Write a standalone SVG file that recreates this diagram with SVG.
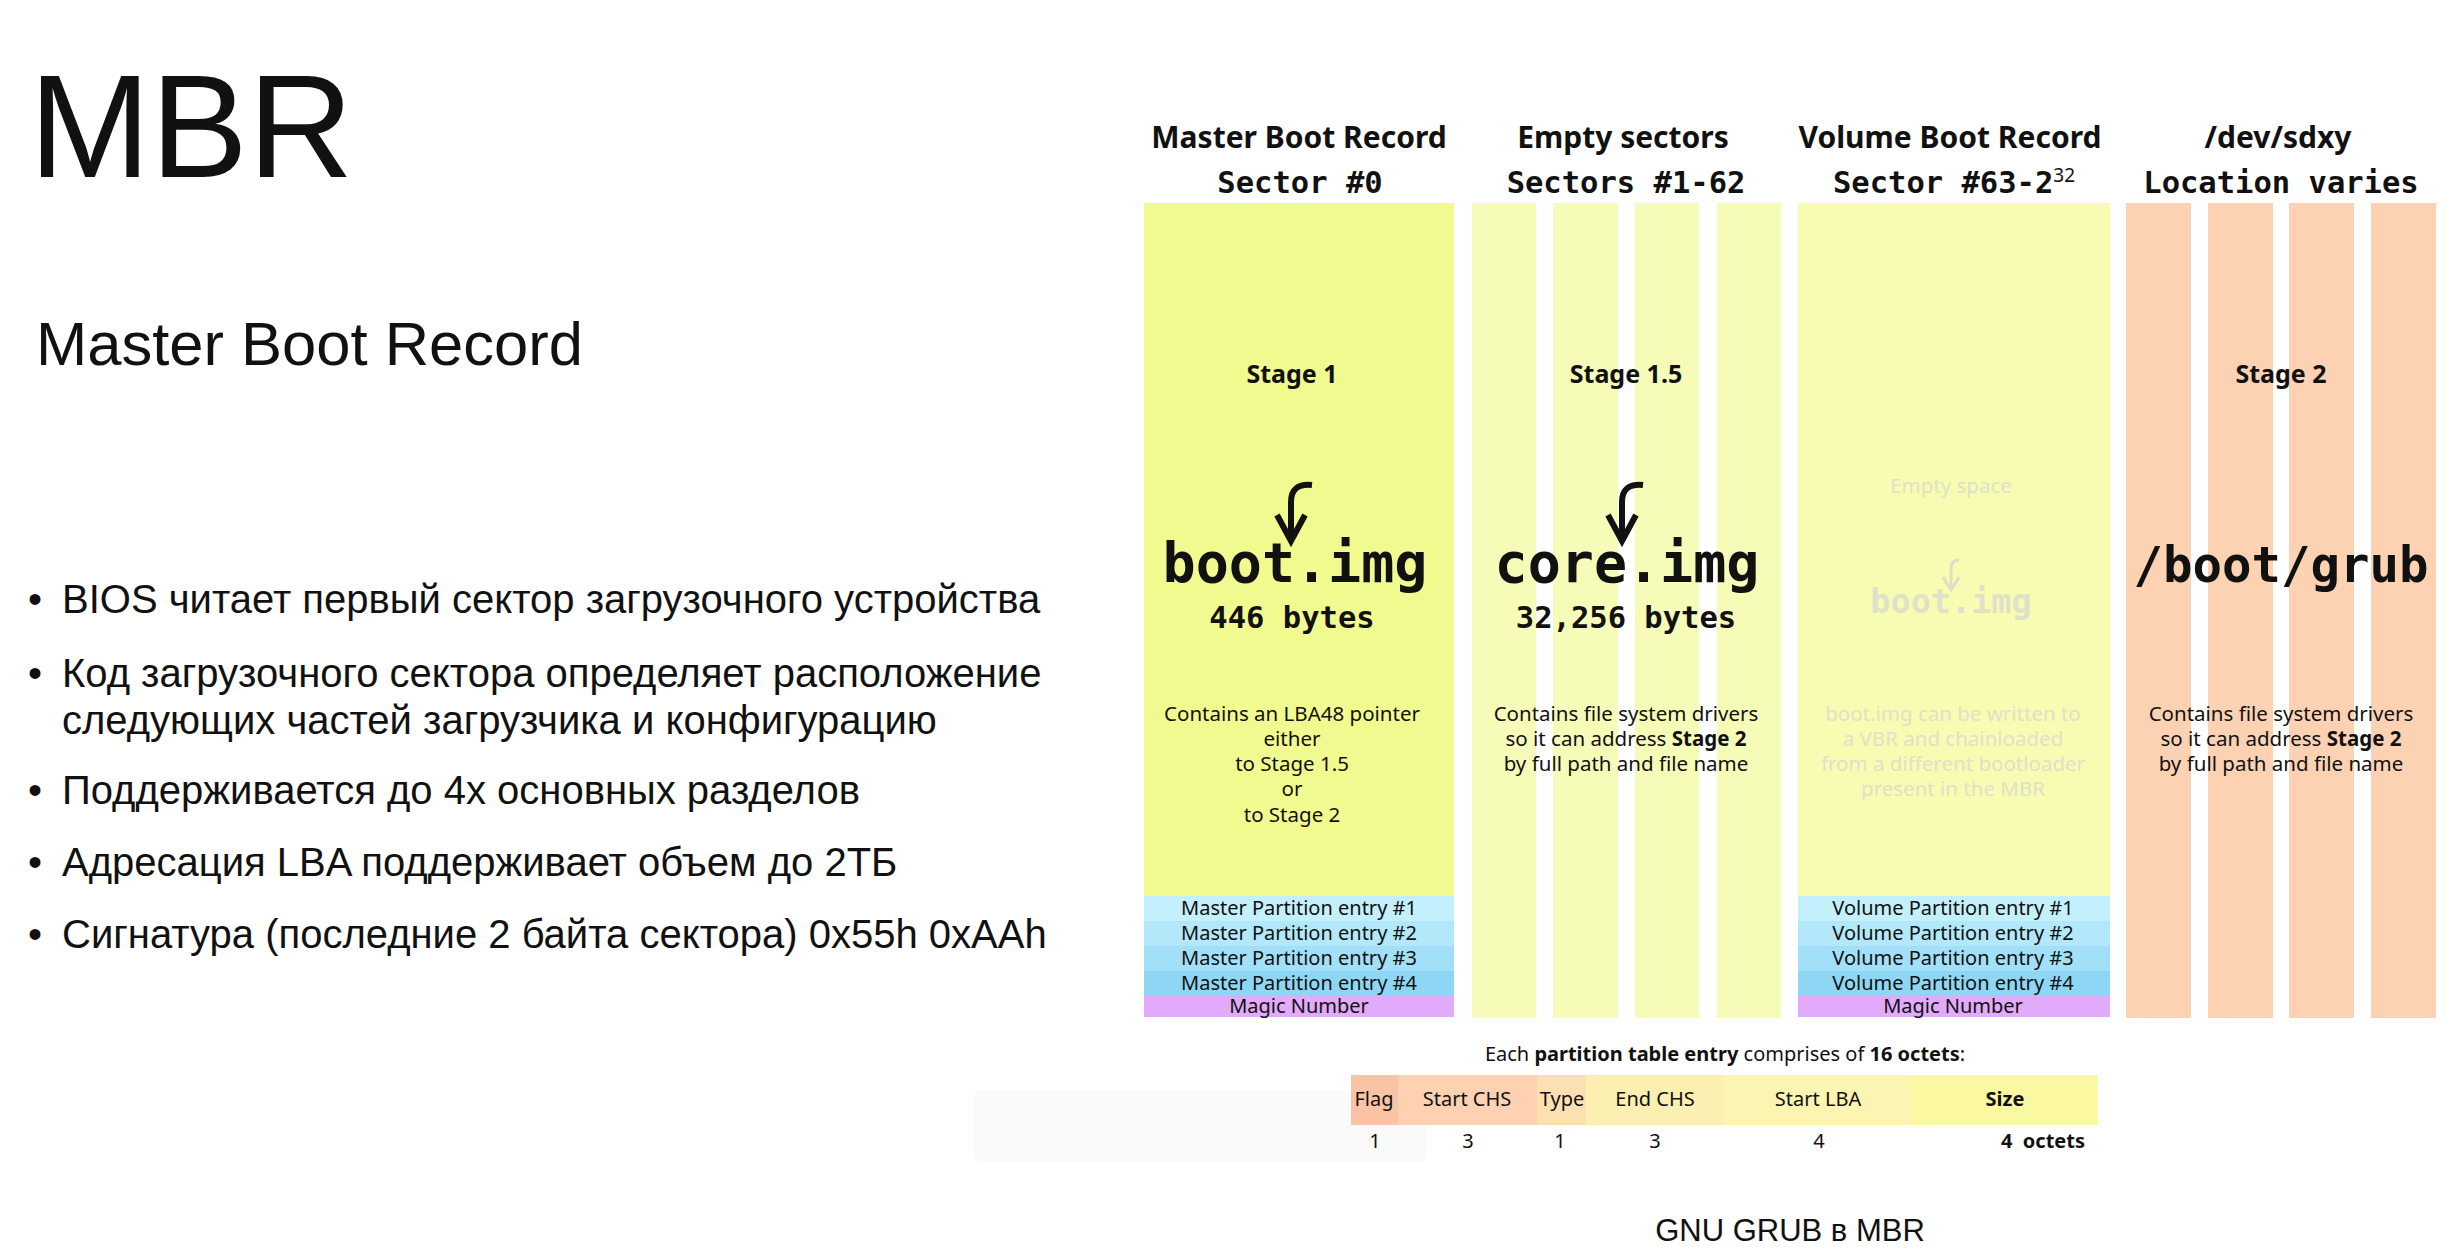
<svg xmlns="http://www.w3.org/2000/svg" width="2453" height="1254" viewBox="0 0 2453 1254">
  <style>
    .slide { font-family: "Liberation Sans", Arial, sans-serif; fill: #111; }
    .hdr { font-family: "Noto Sans", "Open Sans", sans-serif; font-weight: bold; font-size: 30px; fill: #111; text-anchor: middle; }
    .mono { font-family: "DejaVu Sans Mono", "Liberation Mono", monospace; font-weight: bold; fill: #111; text-anchor: middle; }
    .sub { font-size: 30.5px; }
    .big { font-size: 55px; }
    .stage { font-family: "Noto Sans", "Open Sans", sans-serif; font-weight: bold; font-size: 25px; fill: #111; text-anchor: middle; }
    .desc { font-family: "Noto Sans", "Open Sans", sans-serif; font-size: 20.5px; fill: #111; text-anchor: middle; }
    .entry { font-family: "Noto Sans", "Open Sans", sans-serif; font-size: 20px; fill: #111; text-anchor: middle; }
    .faint { fill: #dfe1c8; }
    .arrow { fill: none; stroke: #111; stroke-width: 6; stroke-linecap: butt; }
    .arrow-faint { fill: none; stroke: #dcdec6; stroke-width: 3; }
    .mbr { fill: #f1fa8e; }
    .gap { fill: #f7fbb8; }
    .vbr { fill: #f8fcb3; }
    .dev { fill: #fcd2b2; }
    .p1 { fill: #c3f0fc; }
    .p2 { fill: #b2e8fa; }
    .p3 { fill: #a1e0f8; }
    .p4 { fill: #8dd7f5; }
    .magic { fill: #e1aafa; }
  </style>

  <rect width="2453" height="1254" fill="#ffffff"/>

  <!-- slide text on the left -->
  <g id="slide-title">
    <text class="slide" x="29" y="177" font-size="146">MBR</text>
    <text class="slide" x="36" y="365" font-size="61.5">Master Boot Record</text>
  </g>
  <g id="slide-bullets" class="slide" font-size="40">
    <text x="28" y="613">•</text><text x="62" y="613">BIOS читает первый сектор загрузочного устройства</text>
    <text x="28" y="687">•</text><text x="62" y="687">Код загрузочного сектора определяет расположение</text>
    <text x="62" y="734">следующих частей загрузчика и конфигурацию</text>
    <text x="28" y="804">•</text><text x="62" y="804">Поддерживается до 4х основных разделов</text>
    <text x="28" y="876">•</text><text x="62" y="876">Адресация LBA поддерживает объем до 2ТБ</text>
    <text x="28" y="948">•</text><text x="62" y="948">Сигнатура (последние 2 байта сектора) 0x55h 0xAAh</text>
  </g>

  <!-- faint video-player bar -->
  <rect x="973" y="1090" width="454" height="72" rx="8" fill="#000" opacity="0.018"/>

  <!-- Master Boot Record, sector #0 -->
  <g id="mbr">
    <rect class="mbr" x="1144" y="203" width="310" height="693"/>
    <rect class="p1" x="1144" y="896" width="310" height="25"/>
    <rect class="p2" x="1144" y="921" width="310" height="25"/>
    <rect class="p3" x="1144" y="946" width="310" height="25"/>
    <rect class="p4" x="1144" y="971" width="310" height="25"/>
    <rect class="magic" x="1144" y="996" width="310" height="21"/>
    <text class="hdr" x="1299" y="148">Master Boot Record</text>
    <text class="mono sub" x="1300" y="193">Sector #0</text>
    <text class="stage" x="1292" y="383">Stage 1</text>
    <text class="mono big" x="1295" y="582">boot.img</text>
    <text class="mono sub" x="1292" y="628">446 bytes</text>
    <text class="desc" x="1292" y="721">Contains an LBA48 pointer</text>
    <text class="desc" x="1292" y="746">either</text>
    <text class="desc" x="1292" y="771">to Stage 1.5</text>
    <text class="desc" x="1292" y="796">or</text>
    <text class="desc" x="1292" y="822">to Stage 2</text>
    <text class="entry" x="1299" y="915">Master Partition entry #1</text>
    <text class="entry" x="1299" y="940">Master Partition entry #2</text>
    <text class="entry" x="1299" y="965">Master Partition entry #3</text>
    <text class="entry" x="1299" y="990">Master Partition entry #4</text>
    <text class="entry" x="1299" y="1013">Magic Number</text>
  </g>

  <!-- empty sectors #1-62 holding core.img -->
  <g id="empty-sectors">
    <rect class="gap" x="1472" y="203" width="64" height="815"/>
    <rect class="gap" x="1553" y="203" width="65" height="815"/>
    <rect class="gap" x="1635" y="203" width="64" height="815"/>
    <rect class="gap" x="1717" y="203" width="64" height="815"/>
    <text class="hdr" x="1623" y="148">Empty sectors</text>
    <text class="mono sub" x="1626" y="193">Sectors #1-62</text>
    <text class="stage" x="1626" y="383">Stage 1.5</text>
    <text class="mono big" x="1627" y="582">core.img</text>
    <text class="mono sub" x="1626" y="628">32,256 bytes</text>
    <text class="desc" x="1626" y="721">Contains file system drivers</text>
    <text class="desc" x="1626" y="746">so it can address <tspan font-weight="bold">Stage 2</tspan></text>
    <text class="desc" x="1626" y="771">by full path and file name</text>
  </g>

  <!-- Volume Boot Record -->
  <g id="vbr">
    <rect class="vbr" x="1798" y="203" width="312" height="693"/>
    <rect class="p1" x="1798" y="896" width="312" height="25"/>
    <rect class="p2" x="1798" y="921" width="312" height="25"/>
    <rect class="p3" x="1798" y="946" width="312" height="25"/>
    <rect class="p4" x="1798" y="971" width="312" height="25"/>
    <rect class="magic" x="1798" y="996" width="312" height="21"/>
    <text class="hdr" x="1950" y="148">Volume Boot Record</text>
    <text class="mono sub" x="1954" y="193">Sector #63-2<tspan font-size="19" font-family="Noto Sans, sans-serif" font-weight="normal" dy="-11">32</tspan></text>
    <text class="desc faint" x="1951" y="493" font-size="20">Empty space</text>
    <text class="mono faint" x="1951" y="613" font-size="33.5" fill="#dcdccc">boot.img</text>
    <text class="desc faint" x="1953" y="721">boot.img can be written to</text>
    <text class="desc faint" x="1953" y="746">a VBR and chainloaded</text>
    <text class="desc faint" x="1953" y="771">from a different bootloader</text>
    <text class="desc faint" x="1953" y="796">present in the MBR</text>
    <text class="entry" x="1953" y="915">Volume Partition entry #1</text>
    <text class="entry" x="1953" y="940">Volume Partition entry #2</text>
    <text class="entry" x="1953" y="965">Volume Partition entry #3</text>
    <text class="entry" x="1953" y="990">Volume Partition entry #4</text>
    <text class="entry" x="1953" y="1013">Magic Number</text>
  </g>

  <!-- /dev/sdxy, stage 2 -->
  <g id="dev-sdxy">
    <rect class="dev" x="2126" y="203" width="65" height="815"/>
    <rect class="dev" x="2208" y="203" width="65" height="815"/>
    <rect class="dev" x="2289" y="203" width="65" height="815"/>
    <rect class="dev" x="2371" y="203" width="65" height="815"/>
    <text class="hdr" x="2278" y="148">/dev/sdxy</text>
    <text class="mono sub" x="2281" y="193">Location varies</text>
    <text class="stage" x="2281" y="383">Stage 2</text>
    <text class="mono" x="2281" y="582" font-size="49">/boot/grub</text>
    <text class="desc" x="2281" y="721">Contains file system drivers</text>
    <text class="desc" x="2281" y="746">so it can address <tspan font-weight="bold">Stage 2</tspan></text>
    <text class="desc" x="2281" y="771">by full path and file name</text>
  </g>

  <!-- partition table entry layout -->
  <g id="entry-layout">
    <text class="entry" x="1725" y="1061" font-size="19.5">Each <tspan font-weight="bold">partition table entry</tspan> comprises of <tspan font-weight="bold">16 octets</tspan>:</text>
    <rect x="1351" y="1075" width="47" height="50" fill="#fbc3a6"/>
    <rect x="1398" y="1075" width="139" height="50" fill="#fdd1b1"/>
    <rect x="1537" y="1075" width="49" height="50" fill="#fde0b2"/>
    <rect x="1586" y="1075" width="138" height="50" fill="#fcefb2"/>
    <rect x="1724" y="1075" width="187" height="50" fill="#fcf5b2"/>
    <rect x="1911" y="1075" width="187" height="50" fill="#fbf8a2"/>
    <text class="entry" x="1374" y="1106">Flag</text>
    <text class="entry" x="1467" y="1106">Start CHS</text>
    <text class="entry" x="1562" y="1106">Type</text>
    <text class="entry" x="1655" y="1106">End CHS</text>
    <text class="entry" x="1818" y="1106">Start LBA</text>
    <text class="entry" x="2005" y="1106" font-weight="bold">Size</text>
    <text class="entry" x="1375" y="1148">1</text>
    <text class="entry" x="1468" y="1148">3</text>
    <text class="entry" x="1560" y="1148">1</text>
    <text class="entry" x="1655" y="1148">3</text>
    <text class="entry" x="1819" y="1148">4</text>
    <text class="entry" x="2043" y="1148" font-weight="bold" xml:space="preserve">4  octets</text>
  </g>

  <g id="caption">
    <text class="slide" x="1790" y="1241" font-size="31" text-anchor="middle">GNU GRUB в MBR</text>
  </g>

  <!-- hook arrows pointing at each image -->
  <g id="connectors">
    <path class="arrow" d="M1312,485 Q1291,483 1291,502 L1291,540"/>
    <path class="arrow" d="M1277,515 L1291,541 L1305,515"/>
    <path class="arrow" d="M1643,485 Q1622,483 1622,502 L1622,540"/>
    <path class="arrow" d="M1608,515 L1622,541 L1636,515"/>
    <path class="arrow-faint" d="M1959,560 Q1951,560 1951,569 L1951,589"/>
    <path class="arrow-faint" d="M1943,577 L1951,590 L1959,577"/>
  </g>
</svg>
